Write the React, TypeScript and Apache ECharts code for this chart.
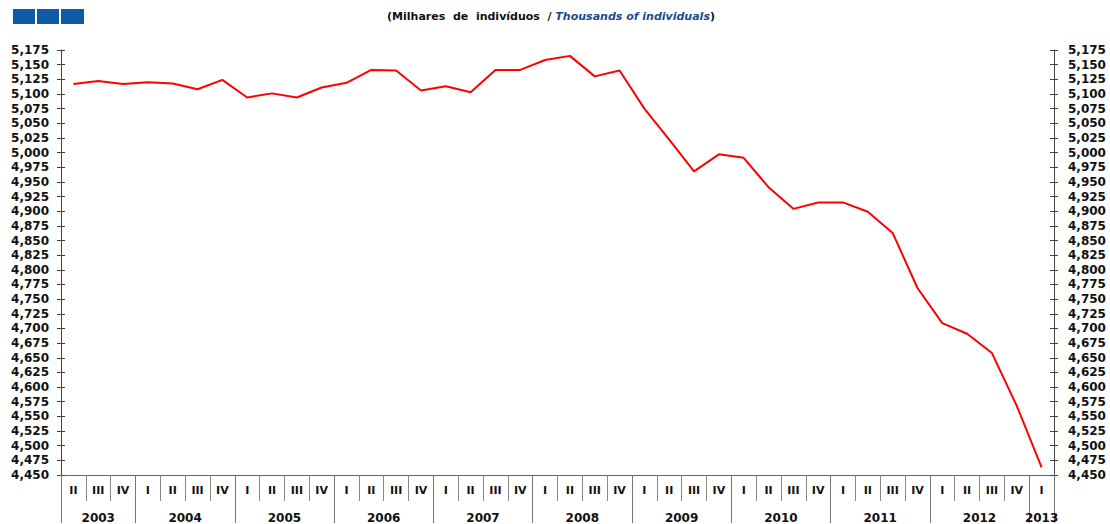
import { useEffect, useRef } from "react";
import * as echarts from "echarts";

const years = ["2003", "2004", "2005", "2006", "2007", "2008", "2009", "2010", "2011", "2012", "2013"];
const quartersPerYear = [3, 4, 4, 4, 4, 4, 4, 4, 4, 4, 1];
const quarters = [
  "II", "III", "IV",
  "I", "II", "III", "IV",
  "I", "II", "III", "IV",
  "I", "II", "III", "IV",
  "I", "II", "III", "IV",
  "I", "II", "III", "IV",
  "I", "II", "III", "IV",
  "I", "II", "III", "IV",
  "I", "II", "III", "IV",
  "I", "II", "III", "IV",
  "I",
];
const employed = [
  5117, 5122, 5117, 5120, 5118, 5108, 5124, 5094, 5101, 5094,
  5111, 5119, 5141, 5140, 5106, 5113, 5103, 5141, 5141, 5158,
  5165, 5130, 5140, 5075, 5022, 4968, 4997, 4991, 4941, 4904,
  4915, 4915, 4899, 4863, 4769, 4709, 4691, 4658, 4568, 4463,
];
const yMin = 4450;
const yMax = 5175;
const yStep = 25;

const FONT = "DejaVu Sans";

export default function App() {
  const ref = useRef<HTMLDivElement>(null);

  useEffect(() => {
    if (!ref.current) return;
    const chart = echarts.init(ref.current, null, { renderer: "svg" });

    // build period categories
    const periods: string[] = [];
    let qi = 0;
    years.forEach((y, i) => {
      for (let k = 0; k < quartersPerYear[i]; k++) {
        periods.push(y + " " + quarters[qi]);
        qi++;
      }
    });
    const quarterOf: Record<string, string> = {};
    periods.forEach((p, i) => (quarterOf[p] = quarters[i]));

    // year axis: half-quarter resolution, boundaryGap false
    const halfCount = quarters.length * 2 + 1;
    const yearAxisData: string[] = new Array(halfCount).fill("");
    const yearBoundaries = new Set<number>([0]);
    let pos = 0;
    years.forEach((y, i) => {
      const n = quartersPerYear[i];
      yearAxisData[pos * 2 + n] = y;
      pos += n;
      yearBoundaries.add(pos * 2);
    });
    const yearAxisKeys = yearAxisData.map((v, i) => "k" + i);

    const fmt = (v: number) => {
      const s = String(Math.round(v));
      return s.length > 3 ? s.slice(0, s.length - 3) + "," + s.slice(-3) : s;
    };

    const yBase = {
      type: "value",
      min: yMin,
      max: yMax,
      interval: yStep,
      splitLine: { show: false },
    };

    chart.setOption({
      animation: false,
      backgroundColor: "#ffffff",
      grid: { left: 61, right: 56, top: 50, bottom: 48, containLabel: false },
      graphic: [
        { type: "rect", shape: { x: 13, y: 9, width: 22, height: 15 }, style: { fill: "#0e5aa7" } },
        { type: "rect", shape: { x: 37, y: 9, width: 22, height: 15 }, style: { fill: "#0e5aa7" } },
        { type: "rect", shape: { x: 61, y: 9, width: 23, height: 15 }, style: { fill: "#0e5aa7" } },
        {
          type: "text",
          x: 551,
          y: 16,
          style: {
            text: "{a|(Milhares  de  indivíduos  / }{b|Thousands of individuals}{a|)}",
            align: "center",
            verticalAlign: "middle",
            rich: {
              a: { fontFamily: FONT, fontWeight: "bold", fontSize: 11, fill: "#111111", color: "#111111" },
              b: { fontFamily: FONT, fontWeight: "bold", fontStyle: "italic", fontSize: 11, fill: "#1a4a8f", color: "#1a4a8f" },
            },
          },
        },
      ],
      xAxis: [
        {
          type: "category",
          data: periods,
          boundaryGap: true,
          position: "bottom",
          axisLine: { show: true, lineStyle: { color: "#666666", width: 1 } },
          axisTick: { show: true, interval: 0, length: 26, lineStyle: { color: "#888888" } },
          axisLabel: {
            interval: 0,
            margin: 10,
            formatter: (v: string) => quarterOf[v],
            fontFamily: FONT,
            fontWeight: "bold",
            fontSize: 11,
            color: "#111111",
          },
          splitLine: { show: false },
        },
        {
          type: "category",
          data: yearAxisKeys,
          boundaryGap: false,
          position: "bottom",
          axisLine: { show: false },
          axisTick: {
            show: true,
            interval: (index: number) => yearBoundaries.has(index),
            length: 48,
            lineStyle: { color: "#777777" },
          },
          axisLabel: {
            interval: 0,
            margin: 37,
            formatter: (v: string) => yearAxisData[Number(v.slice(1))],
            fontFamily: FONT,
            fontWeight: "bold",
            fontSize: 12,
            color: "#111111",
          },
          splitLine: { show: false },
        },
      ],
      yAxis: [
        {
          ...yBase,
          position: "left",
          axisLine: { show: true, lineStyle: { color: "#444444" } },
          axisTick: { show: true, length: 4, lineStyle: { color: "#444444" } },
          axisLabel: { margin: 12, formatter: fmt, fontFamily: FONT, fontWeight: "bold", fontSize: 12, color: "#111111" },
        },
        {
          ...yBase,
          position: "left",
          axisLine: { show: false },
          axisTick: { show: true, inside: true, length: 4, lineStyle: { color: "#444444" } },
          axisLabel: { show: false },
        },
        {
          ...yBase,
          position: "right",
          axisLine: { show: true, lineStyle: { color: "#444444" } },
          axisTick: { show: true, length: 4, lineStyle: { color: "#444444" } },
          axisLabel: { margin: 14, formatter: fmt, fontFamily: FONT, fontWeight: "bold", fontSize: 12, color: "#111111" },
        },
        {
          ...yBase,
          position: "right",
          axisLine: { show: false },
          axisTick: { show: true, inside: true, length: 4, lineStyle: { color: "#444444" } },
          axisLabel: { show: false },
        },
      ],
      series: [
        {
          type: "line",
          xAxisIndex: 0,
          yAxisIndex: 0,
          data: employed,
          symbol: "none",
          lineStyle: { color: "#ff0000", width: 2 },
        },
      ],
    });

    return () => chart.dispose();
  }, []);

  return (
    <div
      ref={ref}
      style={{ position: "fixed", left: 0, top: 0, width: 1110, height: 524, background: "#ffffff" }}
    />
  );
}
